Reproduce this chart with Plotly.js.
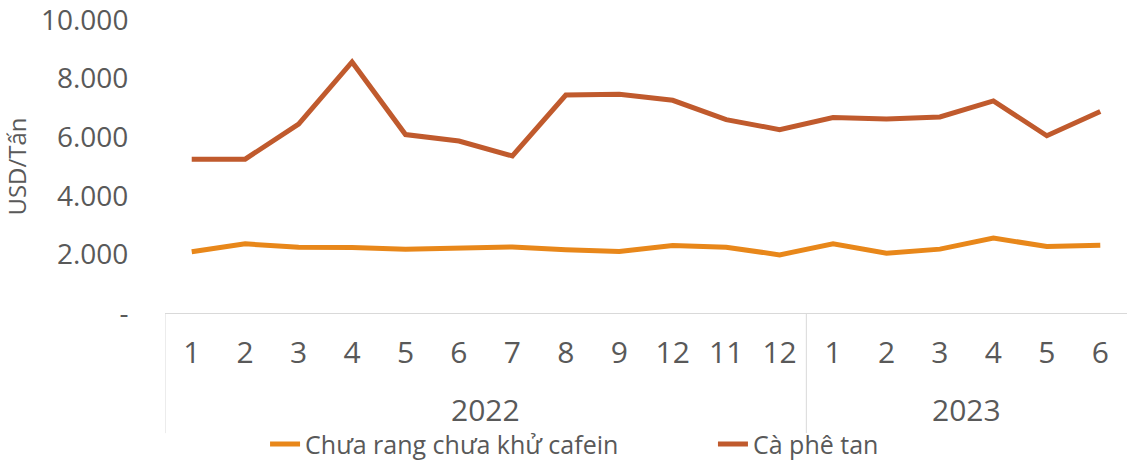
<!DOCTYPE html>
<html>
<head>
<meta charset="utf-8">
<script src="https://cdn.plot.ly/plotly-3.0.1.min.js"></script>
<style>html,body{margin:0;padding:0;background:#fff;}#chart{width:1127px;height:468px;}</style>
</head>
<body>
<div id="chart"></div>
<script>
var years = ["2022","2022","2022","2022","2022","2022","2022","2022","2022","2022","2022","2022","2023","2023","2023","2023","2023","2023"];
var months = ["1","2","3","4","5","6","7","8","9","12","11","12","1","2","3","4","5","6"];
var chuaRang = [2090, 2360, 2245, 2235, 2175, 2210, 2255, 2160, 2100, 2305, 2245, 1985, 2365, 2040, 2180, 2560, 2270, 2315];
var caPheTan = [5250, 5250, 6450, 8570, 6090, 5870, 5360, 7440, 7465, 7260, 6600, 6260, 6670, 6620, 6690, 7240, 6050, 6880];
var yTickVals = [0, 2000, 4000, 6000, 8000, 10000];
var yTickText = ["-", "2.000", "4.000", "6.000", "8.000", "10.000"];

var idx = months.map(function(_, i){ return i; });
var FONT = "'Open Sans', 'DejaVu Sans', sans-serif";
var TXT = "#595959";

var groups = [];
years.forEach(function(y, i){
  if (!groups.length || groups[groups.length-1].name !== y) groups.push({name: y, start: i, end: i});
  else groups[groups.length-1].end = i;
});

var shapes = [];
var annotations = [];
groups.forEach(function(g){
  shapes.push({type:'line', xref:'x', yref:'paper', x0:g.start-0.5, x1:g.start-0.5, y0:0, y1:-0.41, line:{color:'#d9d9d9', width:1}});
  annotations.push({xref:'x', yref:'paper', x:(g.start+g.end)/2, y:-0.328, yanchor:'middle', xanchor:'center', text:g.name, showarrow:false, font:{family:FONT, size:30, color:TXT}});
});

var traces = [
  {x: idx, y: chuaRang, type:'scatter', mode:'lines', name:'Chưa rang chưa khử cafein', legend:'legend', line:{color:'#E8871A', width:5}},
  {x: idx, y: caPheTan, type:'scatter', mode:'lines', name:'Cà phê tan', legend:'legend2', line:{color:'#C05A2D', width:5}}
];

var legendBase = {orientation:'h', xref:'paper', yref:'paper', y:-0.5265, xanchor:'left', yanchor:'bottom', font:{family:FONT, size:25, color:TXT}, borderwidth:0, bgcolor:'rgba(0,0,0,0)'};

var layout = {
  width:1127, height:468,
  margin:{l:165, r:0, t:20, b:152},
  paper_bgcolor:'#fff', plot_bgcolor:'#fff',
  showlegend:true,
  legend: Object.assign({}, legendBase, {x:0.104}),
  legend2: Object.assign({}, legendBase, {x:0.5696}),
  xaxis:{range:[-0.5, 17.5], tickvals: idx, ticktext: months, showgrid:false, zeroline:false, showline:true, linecolor:'#d9d9d9', linewidth:1, ticks:'outside', ticklen:13, tickcolor:'rgba(0,0,0,0)', tickfont:{family:FONT, size:30, color:TXT}, fixedrange:true},
  yaxis:{range:[0, 10001], tickvals:yTickVals, ticktext:yTickText, ticklabeloverflow:'allow', showgrid:false, zeroline:false, showline:false, ticks:'outside', ticklen:30, tickcolor:'rgba(0,0,0,0)', tickfont:{family:FONT, size:28, color:TXT}, title:{text:'USD/Tấn', font:{family:FONT, size:24, color:TXT}, standoff:20}, fixedrange:true},
  shapes: shapes,
  annotations: annotations
};

Plotly.newPlot('chart', traces, layout, {displayModeBar:false, staticPlot:true});
</script>
</body>
</html>
